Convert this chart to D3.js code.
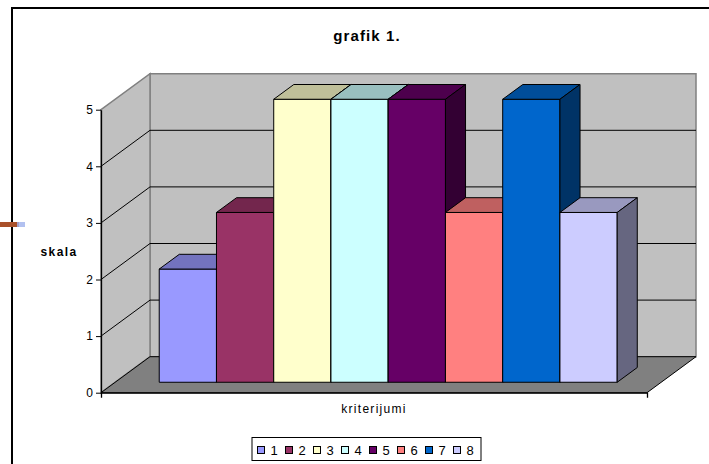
<!DOCTYPE html>
<html>
<head>
<meta charset="utf-8">
<script src="https://cdn.jsdelivr.net/npm/d3@7"></script>
<style>
  body { margin: 0; background: #fff; }
  svg { display: block; font-family: "Liberation Sans", Arial, sans-serif; }
</style>
</head>
<body>
<div class="app"></div>
<script>
// chart data
var categories = ["kriterijumi"];
var series = ["1", "2", "3", "4", "5", "6", "7", "8"];
var values = [2, 3, 5, 5, 5, 3, 5, 3];
var colors = ["#9999FF", "#993366", "#FFFFCC", "#CCFFFF", "#660066", "#FF8080", "#0066CC", "#CCCCFF"];
var yTicks = [0, 1, 2, 3, 4, 5];

var width = 709, height = 464;

// plot area (front plane) and depth of the 3d box
var plot = {left: 101, right: 647, top: 109.7, bottom: 392.7},
    depth = {dx: 49, dy: 36},
    barZ = [0.29, 0.70];

var svg = d3.select(".app").append("svg")
    .attr("width", width)
    .attr("height", height);

// set the ranges
var x0 = d3.scaleBand().domain(categories).range([plot.left, plot.right]);
var x1 = d3.scaleBand().domain(series).range([0, x0.bandwidth()]).paddingOuter(0.769);
var y = d3.scaleLinear().domain([0, 5]).range([plot.bottom, plot.top]);

// project a front-plane point back by depth fraction z
function proj(px, py, z) { return [px + z * depth.dx, py - z * depth.dy]; }
function poly(pts) { return pts.map(function(p) { return p.join(","); }).join(" "); }
function shade(c, k) { var r = d3.rgb(c); return d3.rgb(r.r * k, r.g * k, r.b * k).formatHex(); }

// outer frame
svg.append("path")
    .attr("d", "M12," + height + "V8H" + width)
    .attr("fill", "none")
    .attr("stroke", "#000")
    .attr("stroke-width", 2);

// small stray mark at the left edge
svg.append("rect").attr("x", 0).attr("y", 222).attr("width", 19).attr("height", 5).attr("fill", "#a9502a");
svg.append("rect").attr("x", 17).attr("y", 222).attr("width", 8).attr("height", 5).attr("fill", "#9fb2ec").attr("opacity", 0.8);

var yMax = y(5);

// back wall
svg.append("polygon")
    .attr("points", poly([proj(plot.left, yMax, 1), proj(plot.right, yMax, 1), proj(plot.right, plot.bottom, 1), proj(plot.left, plot.bottom, 1)]))
    .attr("fill", "#C0C0C0")
    .attr("stroke", "#808080")
    .attr("stroke-width", 1.5);

// side wall
svg.append("polygon")
    .attr("points", poly([[plot.left, plot.bottom], [plot.left, yMax], proj(plot.left, yMax, 1), proj(plot.left, plot.bottom, 1)]))
    .attr("fill", "#C0C0C0")
    .attr("stroke", "#808080")
    .attr("stroke-width", 1.5);

// gridlines on both walls
var grid = yTicks.filter(function(t) { return t > 0 && t < 5; });
svg.selectAll(".gridBack").data(grid).enter().append("line")
    .attr("x1", proj(plot.left, 0, 1)[0])
    .attr("x2", proj(plot.right, 0, 1)[0])
    .attr("y1", function(d) { return proj(0, y(d), 1)[1]; })
    .attr("y2", function(d) { return proj(0, y(d), 1)[1]; })
    .attr("stroke", "#000");
svg.selectAll(".gridSide").data(grid).enter().append("line")
    .attr("x1", plot.left)
    .attr("y1", function(d) { return y(d); })
    .attr("x2", proj(plot.left, 0, 1)[0])
    .attr("y2", function(d) { return proj(0, y(d), 1)[1]; })
    .attr("stroke", "#000");

// floor
svg.append("polygon")
    .attr("points", poly([[plot.left, plot.bottom], [plot.right, plot.bottom], proj(plot.right, plot.bottom, 1), proj(plot.left, plot.bottom, 1)]))
    .attr("fill", "#808080")
    .attr("stroke", "#000")
    .attr("stroke-width", 1);

// bars, drawn left to right
var bars = svg.append("g");
series.forEach(function(s, i) {
  var xa = x0(categories[0]) + x1(s),
      xb = xa + x1.bandwidth(),
      yt = y(values[i]),
      yb = y(0),
      z0 = barZ[0], z1 = barZ[1],
      g = bars.append("g").attr("stroke", "#000").attr("stroke-width", 1).attr("stroke-linejoin", "round");

  g.append("polygon")
      .attr("points", poly([proj(xa, yt, z0), proj(xb, yt, z0), proj(xb, yb, z0), proj(xa, yb, z0)]))
      .attr("fill", colors[i]);
  g.append("polygon")
      .attr("points", poly([proj(xa, yt, z0), proj(xb, yt, z0), proj(xb, yt, z1), proj(xa, yt, z1)]))
      .attr("fill", shade(colors[i], 0.75));
  g.append("polygon")
      .attr("points", poly([proj(xb, yt, z0), proj(xb, yt, z1), proj(xb, yb, z1), proj(xb, yb, z0)]))
      .attr("fill", shade(colors[i], 0.5));
});

// x axis
var xAxis = svg.append("g")
    .attr("transform", "translate(0," + plot.bottom + ")")
    .call(d3.axisBottom(x0).tickSizeInner(0).tickSizeOuter(5).tickPadding(12));
xAxis.select(".domain").attr("stroke", "#000").attr("stroke-width", 1.3);
xAxis.selectAll("text")
    .attr("fill", "#000")
    .attr("font-size", 12)
    .attr("font-family", "Liberation Sans, Arial, sans-serif")
    .attr("letter-spacing", 1.3);

// y axis
var yAxis = svg.append("g")
    .attr("transform", "translate(" + plot.left + ",0)")
    .call(d3.axisLeft(y).tickValues(yTicks).tickSizeInner(5).tickSizeOuter(0).tickPadding(3).tickFormat(d3.format("d")));
yAxis.select(".domain").attr("stroke", "#000").attr("stroke-width", 1.3);
yAxis.selectAll("line").attr("stroke", "#000");
yAxis.selectAll("text")
    .attr("fill", "#000")
    .attr("font-size", 12)
    .attr("font-family", "Liberation Sans, Arial, sans-serif");

// title and axis label
svg.append("text")
    .attr("x", 367)
    .attr("y", 41)
    .attr("text-anchor", "middle")
    .attr("font-size", 15)
    .attr("font-weight", "bold")
    .attr("letter-spacing", 1.1)
    .text("grafik 1.");

svg.append("text")
    .attr("x", 59)
    .attr("y", 256)
    .attr("text-anchor", "middle")
    .attr("font-size", 12)
    .attr("font-weight", "bold")
    .attr("letter-spacing", 1.4)
    .text("skala");

// legend
var lx = d3.scaleBand().domain(series).range([255, 479]);
svg.append("rect")
    .attr("x", 252).attr("y", 437.5)
    .attr("width", 229).attr("height", 23)
    .attr("fill", "#fff")
    .attr("stroke", "#000");
var items = svg.selectAll(".legend").data(series).enter().append("g")
    .attr("transform", function(d) { return "translate(" + lx(d) + ",0)"; });
items.append("rect")
    .attr("x", 2.5).attr("y", 446.5)
    .attr("width", 7).attr("height", 7)
    .attr("fill", function(d, i) { return colors[i]; })
    .attr("stroke", "#000");
items.append("text")
    .attr("x", 15.5).attr("y", 455)
    .attr("font-size", 13)
    .text(function(d) { return d; });
</script>
</body>
</html>
